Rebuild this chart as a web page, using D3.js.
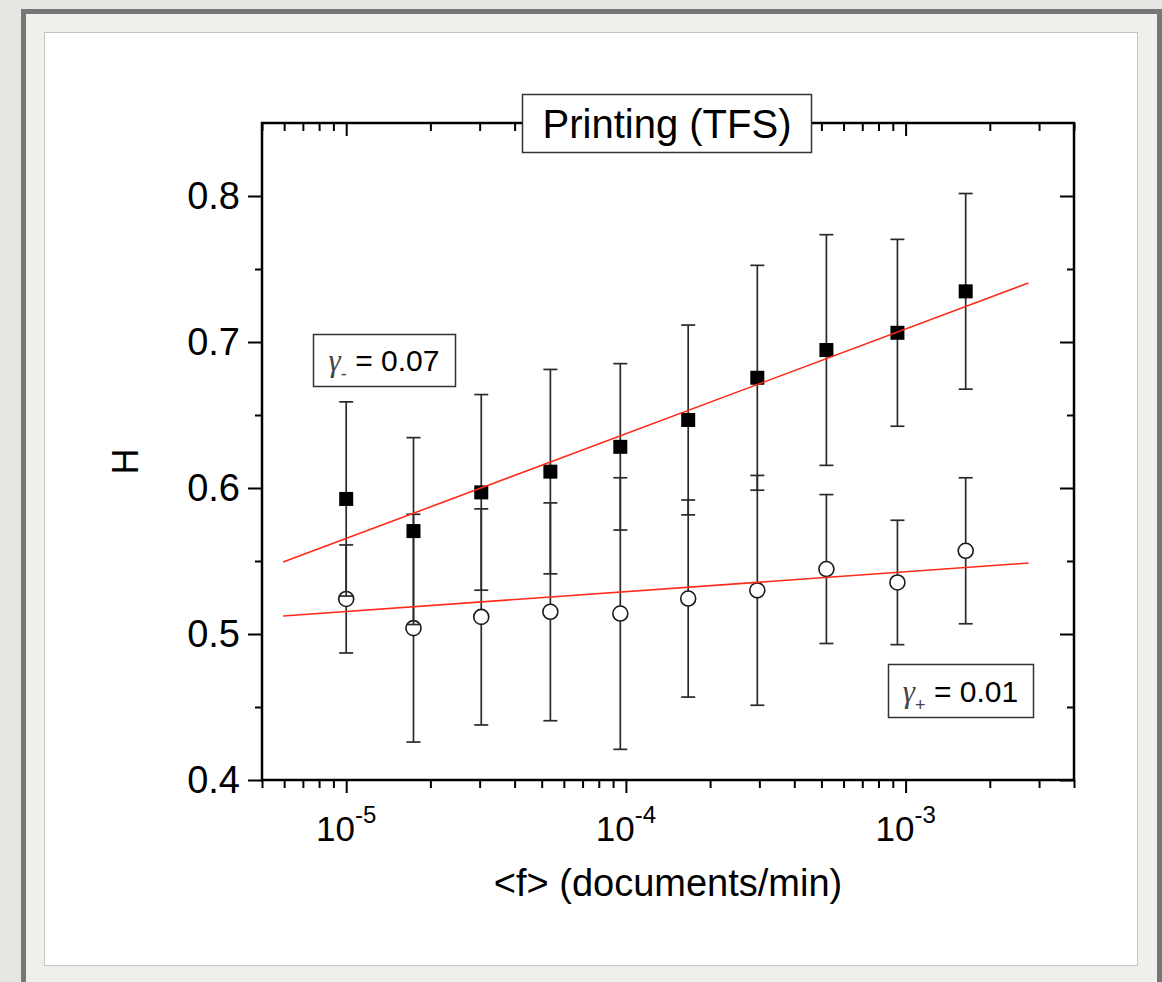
<!DOCTYPE html>
<html><head><meta charset="utf-8">
<script src="https://cdn.jsdelivr.net/npm/d3@7"></script>
<style>body{margin:0;background:#e5e5e1;} svg{display:block}</style>
</head><body><svg id="c" width="1162" height="982"></svg>
<script>
// ---- data ----
const freq = [1.0e-5, 1.74e-5, 3.04e-5, 5.37e-5, 9.55e-5, 1.67e-4, 2.95e-4, 5.21e-4, 9.35e-4, 1.64e-3];
const hMinus = [0.5925, 0.5705, 0.597, 0.6112, 0.6282, 0.6466, 0.6755, 0.6945, 0.7063, 0.7347];
const errMinus = [0.0665, 0.064, 0.067, 0.070, 0.057, 0.065, 0.077, 0.079, 0.064, 0.067];
const hPlus = [0.524, 0.504, 0.5117, 0.5152, 0.514, 0.5243, 0.5299, 0.5445, 0.5353, 0.557];
const errPlus = [0.037, 0.078, 0.074, 0.0746, 0.093, 0.0675, 0.0787, 0.051, 0.0426, 0.05];
const fitF = [5.95e-6, 2.75e-3];
const fitMinusH = [0.5493, 0.7404];
const fitPlusH = [0.5123, 0.5486];
const xTickExp = [-5, -4, -3];
const yTicks = [0.4, 0.5, 0.6, 0.7, 0.8];
const yMinorTicks = [0.45, 0.55, 0.65, 0.75];
const titleText = "Printing (TFS)";
const xTitle = "<f> (documents/min)";
const yTitle = "H";
const gammaMinus = "0.07";
const gammaPlus = "0.01";

// ---- layout ----
const L = 262, R = 1074, T = 123, B = 780;
const svg = d3.select("#c");
const x = d3.scaleLog().domain([5e-6, 4e-3]).range([L, R]);
const y = d3.scaleLinear().domain([0.4, 0.85]).range([B, T]);

// slide frame
svg.append("rect").attr("width", 1162).attr("height", 982).attr("fill", "#e6e6e2");
svg.append("rect").attr("x", 21).attr("y", 9).attr("width", 1141).attr("height", 1000).attr("fill", "#767676");
svg.append("rect").attr("x", 26).attr("y", 14).attr("width", 1131).attr("height", 1000).attr("fill", "#efefec");
svg.append("rect").attr("x", 44.5).attr("y", 32.5).attr("width", 1093).attr("height", 933)
  .attr("fill", "#fff").attr("stroke", "#c4c4c4").attr("stroke-width", 1);

const FONT = "'Liberation Sans', Arial, sans-serif";

// ticks
const majorsX = xTickExp.map(e => Math.pow(10, e));
const minorsX = [];
for (let e = -6; e <= -3; e++) for (let m = 2; m <= 9; m++) {
  const v = m * Math.pow(10, e);
  if (v >= 4.99e-6 && v <= 4.01e-3) minorsX.push(v);
}

function styleAxis(g) {
  g.select(".domain").remove();
  g.selectAll(".tick line").attr("stroke", "#000").attr("stroke-width", 2);
}
function addAxis(axis, tx, ty) {
  return svg.append("g").attr("transform", `translate(${tx},${ty})`).call(axis).call(styleAxis);
}
addAxis(d3.axisBottom(x).tickValues(majorsX).tickSize(13).tickFormat(""), 0, B);
addAxis(d3.axisBottom(x).tickValues(minorsX).tickSize(8).tickFormat(""), 0, B);
addAxis(d3.axisTop(x).tickValues(majorsX).tickSize(-13).tickFormat(""), 0, T);
addAxis(d3.axisTop(x).tickValues(minorsX).tickSize(-8).tickFormat(""), 0, T);
const gl = addAxis(d3.axisLeft(y).tickValues(yTicks).tickSize(14).tickPadding(8).tickFormat(d3.format(".1f")), L, 0);
gl.selectAll(".tick text").attr("font-family", FONT).attr("font-size", 38).attr("fill", "#000");
addAxis(d3.axisLeft(y).tickValues(yMinorTicks).tickSize(7).tickFormat(""), L, 0);
addAxis(d3.axisRight(y).tickValues(yTicks).tickSize(-14).tickFormat(""), R, 0);
addAxis(d3.axisRight(y).tickValues(yMinorTicks).tickSize(-7).tickFormat(""), R, 0);

// x tick labels with superscripts
const xl = svg.append("g");
xTickExp.forEach(e => {
  const t = xl.append("text").attr("x", x(Math.pow(10, e))).attr("y", 841)
    .attr("text-anchor", "middle").attr("font-family", FONT).attr("font-size", 35).attr("fill", "#000");
  t.append("tspan").text("10");
  t.append("tspan").attr("dy", -18).attr("font-size", 24).text(String(e));
});

// axis frame
svg.append("rect").attr("x", L).attr("y", T).attr("width", R - L).attr("height", B - T)
  .attr("fill", "none").attr("stroke", "#000").attr("stroke-width", 2.5);

// axis titles
svg.append("text").attr("x", (L + R) / 2).attr("y", 896).attr("text-anchor", "middle")
  .attr("font-family", FONT).attr("font-size", 38).text(xTitle);
svg.append("text").attr("transform", `translate(138,${(T + B) / 2 + 10}) rotate(-90)`).attr("text-anchor", "middle")
  .attr("font-family", FONT).attr("font-size", 36).text(yTitle);

// data
const plot = svg.append("g");
function errorBars(vals, errs, color) {
  const g = plot.append("g").attr("stroke", color).attr("stroke-width", 1.7);
  freq.forEach((f, i) => {
    const cx = x(f), y1 = y(vals[i] + errs[i]), y2 = y(vals[i] - errs[i]);
    g.append("line").attr("x1", cx).attr("x2", cx).attr("y1", y1).attr("y2", y2);
    g.append("line").attr("x1", cx - 7).attr("x2", cx + 7).attr("y1", y1).attr("y2", y1);
    g.append("line").attr("x1", cx - 7).attr("x2", cx + 7).attr("y1", y2).attr("y2", y2);
  });
}
errorBars(hPlus, errPlus, "#2a2a2a");
plot.append("g").selectAll("circle").data(hPlus).join("circle")
  .attr("cx", (d, i) => x(freq[i])).attr("cy", d => y(d)).attr("r", 7.5)
  .attr("fill", "#fff").attr("stroke", "#1a1a1a").attr("stroke-width", 1.6);
errorBars(hMinus, errMinus, "#2a2a2a");
plot.append("g").selectAll("rect").data(hMinus).join("rect")
  .attr("x", (d, i) => x(freq[i]) - 7).attr("y", d => y(d) - 7).attr("width", 14).attr("height", 14)
  .attr("fill", "#000");

// fit lines
const line = d3.line().x(d => x(d[0])).y(d => y(d[1]));
plot.append("path").datum(fitF.map((f, i) => [f, fitMinusH[i]])).attr("d", line)
  .attr("fill", "none").attr("stroke", "#ff2a1a").attr("stroke-width", 1.6);
plot.append("path").datum(fitF.map((f, i) => [f, fitPlusH[i]])).attr("d", line)
  .attr("fill", "none").attr("stroke", "#ff2a1a").attr("stroke-width", 1.6);

// title box
svg.append("rect").attr("x", 522.5).attr("y", 94.5).attr("width", 289).attr("height", 58)
  .attr("fill", "#fff").attr("stroke", "#333").attr("stroke-width", 1.5);
svg.append("text").attr("x", 667).attr("y", 138).attr("text-anchor", "middle")
  .attr("font-family", FONT).attr("font-size", 40).text(titleText);

// gamma boxes
function gammaBox(bx, by, bw, bh, sub, val) {
  svg.append("rect").attr("x", bx + 0.5).attr("y", by + 0.5).attr("width", bw).attr("height", bh)
    .attr("fill", "#fff").attr("stroke", "#333").attr("stroke-width", 1.5);
  const t = svg.append("text").attr("x", bx + bw / 2).attr("y", by + bh / 2 + 11).attr("text-anchor", "middle")
    .attr("font-family", FONT).attr("font-size", 30).attr("fill", "#000");
  t.append("tspan").attr("font-family", "'Liberation Serif', 'DejaVu Serif', serif").attr("font-style", "italic")
    .attr("font-size", 31).attr("fill", "#444").text("γ");
  t.append("tspan").attr("dy", 9).attr("font-size", 18).attr("fill", "#444").text(sub);
  t.append("tspan").attr("dy", -9).text(" = " + val);
}
gammaBox(313, 334, 142, 52, "-", gammaMinus);
gammaBox(888, 664, 145, 53, "+", gammaPlus);
</script></body></html>
